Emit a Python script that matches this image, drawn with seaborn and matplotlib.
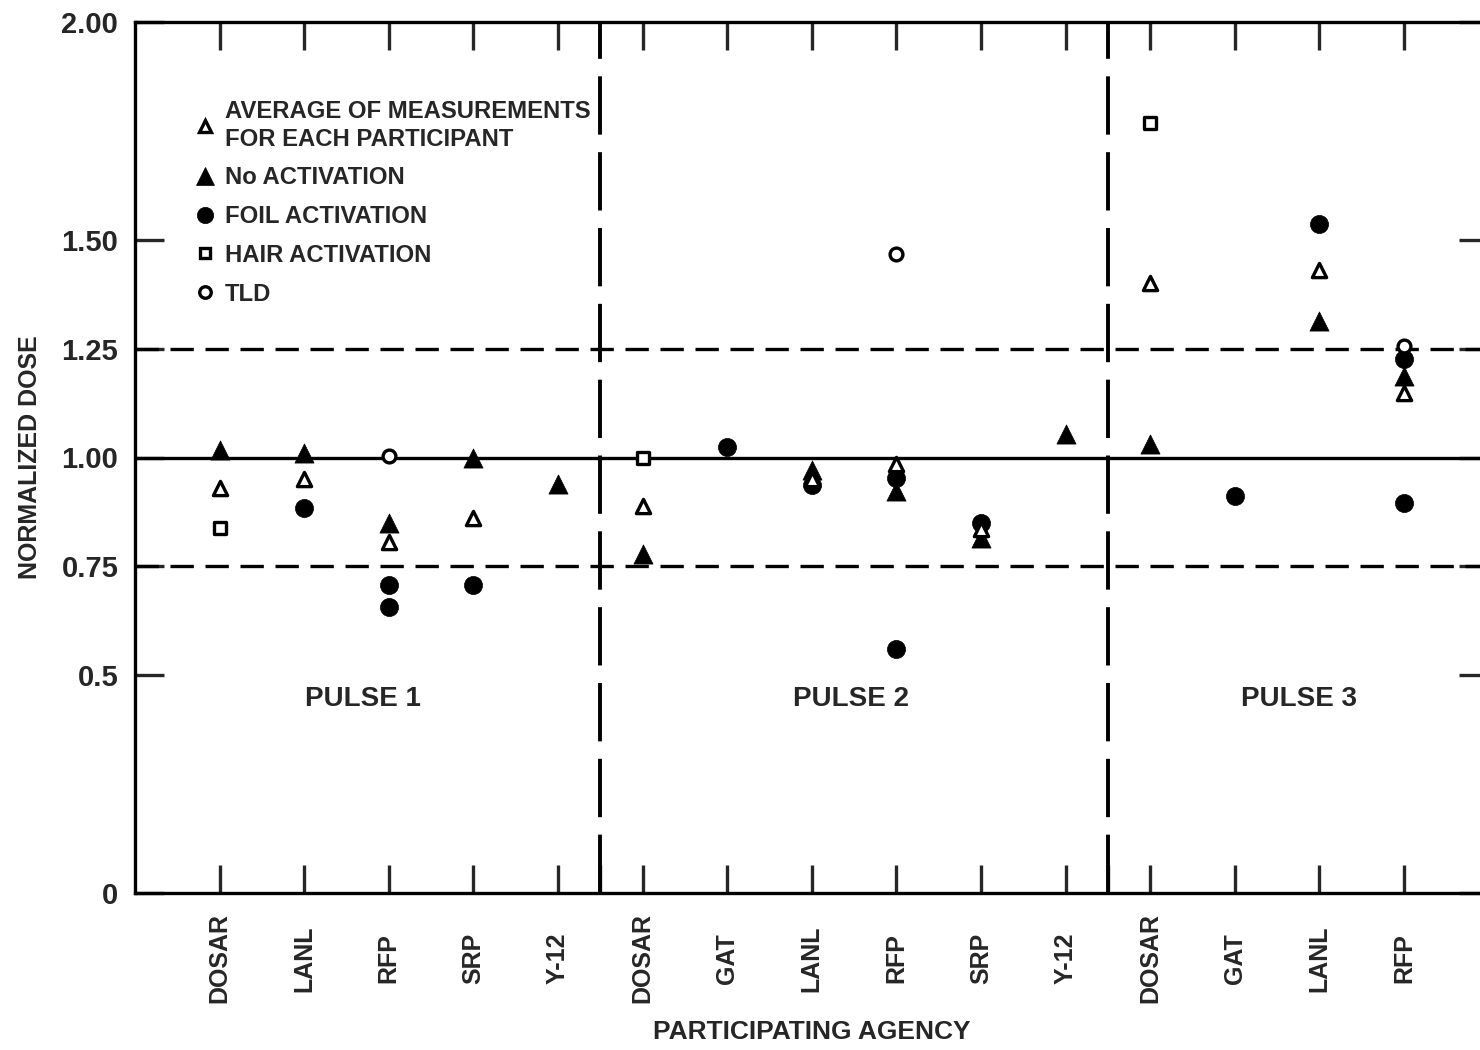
import pandas as pd
import seaborn as sns
import matplotlib.pyplot as plt
from matplotlib.lines import Line2D

# agencies along the x axis (three pulses)
agencies = ["DOSAR", "LANL", "RFP", "SRP", "Y-12",
            "DOSAR", "GAT", "LANL", "RFP", "SRP", "Y-12",
            "DOSAR", "GAT", "LANL", "RFP"]
pulse_names = ["PULSE 1", "PULSE 2", "PULSE 3"]
pulse_breaks = [4.5, 10.5]

# average of measurements for each participant (open triangles)
avg_pos = [0, 1, 2, 3, 5, 7, 8, 9, 11, 13, 14]
avg_dose = [0.93, 0.95, 0.805, 0.86, 0.888, 0.95, 0.984, 0.835, 1.40, 1.43, 1.147]

# no activation (filled triangles)
noact_pos = [0, 1, 2, 3, 4, 5, 7, 8, 9, 10, 11, 13, 14]
noact_dose = [1.018, 1.01, 0.85, 1.0, 0.94, 0.778, 0.972, 0.922, 0.815, 1.055, 1.032, 1.314, 1.188]

# foil activation (filled circles)
foil_pos = [1, 2, 2, 3, 6, 7, 8, 8, 9, 12, 13, 14, 14]
foil_dose = [0.885, 0.707, 0.657, 0.707, 1.023, 0.938, 0.952, 0.56, 0.85, 0.912, 1.537, 1.226, 0.895]

# hair activation (open squares)
hair_pos = [0, 5, 11]
hair_dose = [0.837, 1.00, 1.767]

# TLD (open circles)
tld_pos = [2, 8, 14]
tld_dose = [1.003, 1.467, 1.255]

y_ticks = [0, 0.5, 0.75, 1.0, 1.25, 1.5, 2.0]
y_ticklabels = ["0", "0.5", "0.75", "1.00", "1.25", "1.50", "2.00"]


def to_frame(pos, dose, kind):
    return pd.DataFrame({"pos": pos, "dose": dose, "kind": kind})


df = pd.concat([
    to_frame(noact_pos, noact_dose, "noact"),
    to_frame(foil_pos, foil_dose, "foil"),
    to_frame(avg_pos, avg_dose, "avg"),
    to_frame(hair_pos, hair_dose, "hair"),
    to_frame(tld_pos, tld_dose, "tld"),
], ignore_index=True)

# marker, size, face colour, edge width
styles = {
    "noact": ("^", 190, "black", 0.5),
    "foil": ("o", 170, "black", 0.5),
    "avg": ("^", 105, "white", 2.4),
    "hair": ("s", 70, "white", 2.4),
    "tld": ("o", 85, "white", 2.4),
}
legend_labels = {
    "avg": "AVERAGE OF MEASUREMENTS\nFOR EACH PARTICIPANT",
    "noact": "No ACTIVATION",
    "foil": "FOIL ACTIVATION",
    "hair": "HAIR ACTIVATION",
    "tld": "TLD",
}

sns.set_theme(style="ticks")
plt.rcParams["font.family"] = ["Liberation Sans", "DejaVu Sans"]
plt.rcParams["font.weight"] = "bold"
plt.rcParams["axes.linewidth"] = 2.4

fig = plt.figure(figsize=(14.8, 10.5), dpi=100)
ax = fig.add_axes([135 / 1480, 157 / 1050, (1488.5 - 135) / 1480, 871 / 1050])

# reference lines
ax.axhline(1.0, color="black", lw=2.4, zorder=1)
for yv in [0.75, 1.25]:
    ax.axhline(yv, color="black", lw=2.4, ls=(0, (7, 3.5)), zorder=1)
for xv in pulse_breaks:
    ax.axvline(xv, color="black", lw=2.8, ls=(0, (15, 4.5)), zorder=1)

for kind in ["noact", "foil", "avg", "hair", "tld"]:
    marker, size, face, lw = styles[kind]
    sns.scatterplot(data=df[df["kind"] == kind], x="pos", y="dose", ax=ax,
                    marker=marker, s=size, color=face, edgecolor="black",
                    linewidth=lw, zorder=3, legend=False)

ax.set_xlim(-1, 15)
ax.set_ylim(0, 2.0)

ax.set_xticks(range(len(agencies)))
ax.set_xticklabels(agencies, rotation=90, fontsize=18, fontweight="bold")
ax.set_xticks(pulse_breaks, minor=True)
plt.setp(ax.get_xticklabels(), va="center")
ax.tick_params(axis="x", which="major", direction="in", length=20, width=2.4,
               top=True, bottom=True, pad=47)
ax.tick_params(axis="x", which="minor", direction="in", length=20, width=2.4,
               top=False, bottom=True)

ax.set_yticks(y_ticks)
ax.set_yticklabels(y_ticklabels, fontsize=21)
ax.tick_params(axis="y", direction="in", length=21, width=2.4,
               left=True, right=True, pad=12)

ax.set_xlabel("PARTICIPATING AGENCY", fontsize=19, fontweight="bold", labelpad=12)
ax.set_ylabel("NORMALIZED DOSE", fontsize=18, fontweight="bold", labelpad=14)

# pulse labels
for name, xc in zip(pulse_names, [1.69, 7.46, 12.76]):
    ax.text(xc, 0.446, name, ha="center", va="center", fontsize=20, fontweight="bold")

handles = []
for kind in ["avg", "noact", "foil", "hair", "tld"]:
    marker, size, face, lw = styles[kind]
    handles.append(Line2D([], [], ls="none", marker=marker, markersize=size ** 0.5 * 0.9,
                          markerfacecolor=face, markeredgecolor="black",
                          markeredgewidth=lw, label=legend_labels[kind]))
leg = ax.legend(handles=handles, loc="upper left", bbox_to_anchor=(0.045, 0.911),
                frameon=False, borderaxespad=0, borderpad=0, handlelength=0.8,
                handletextpad=0.4, labelspacing=0.66,
                prop={"size": 17.2, "weight": "bold"})
leg.get_texts()[0].set_linespacing(1.28)

for side in ["top", "bottom", "left", "right"]:
    ax.spines[side].set_color("black")

fig.savefig("out.png", dpi=100, facecolor="white")
